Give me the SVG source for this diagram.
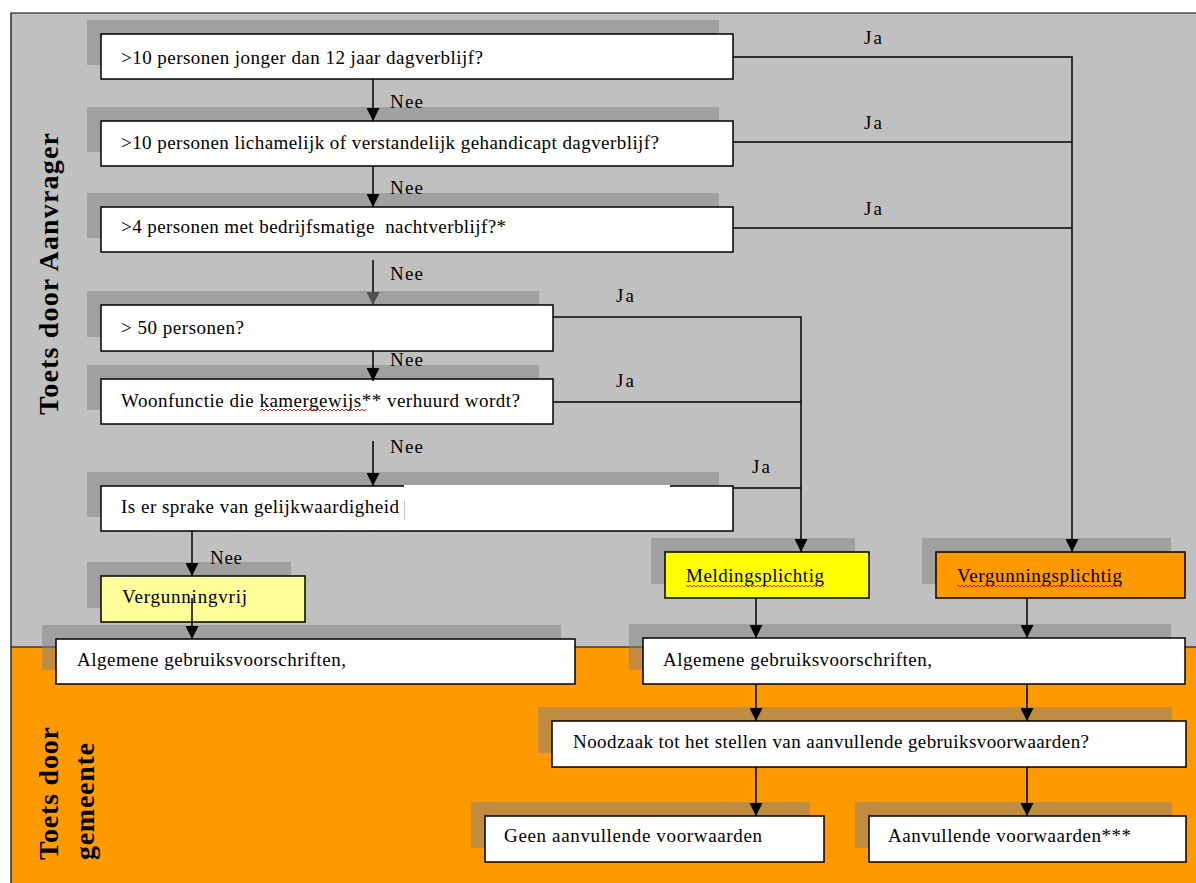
<svg xmlns="http://www.w3.org/2000/svg" width="1196" height="883" viewBox="0 0 1196 883">
<style>
.sh{fill:#808080;fill-opacity:.5}
.bx{stroke:#000;stroke-width:1.5}
.w{fill:#fff}
.t{font-family:"Liberation Serif","Times New Roman",serif;font-size:19px;fill:#000}
.v{font-family:"Liberation Serif","Times New Roman",serif;font-size:28px;font-weight:bold;fill:#000}
.c{fill:none;stroke:#000;stroke-width:1.5}
.ul{fill:url(#wave)}
</style>
<defs>
<marker id="ah" markerUnits="userSpaceOnUse" markerWidth="14" markerHeight="13" refX="13" refY="6.5" orient="auto"><path d="M0,0 L13,6.5 L0,13 z" fill="#000"/></marker>
<marker id="ahg" markerUnits="userSpaceOnUse" markerWidth="14" markerHeight="13" refX="13" refY="6.5" orient="auto"><path d="M0,0 L13,6.5 L0,13 z" fill="#505050"/></marker>
<pattern id="wave" patternUnits="userSpaceOnUse" x="0" y="0" width="4" height="4"><path d="M0,3 L2,1 L4,3" fill="none" stroke="#e00000" stroke-width="0.9"/></pattern>
</defs>

<g id="background">
<rect x="11" y="13" width="1185" height="634" fill="#c0c0c0"/>
<rect x="11" y="647" width="1185" height="236" fill="#ff9900"/>
<path d="M11,883 V13 H1196" fill="none" stroke="#000" stroke-width="1.2"/>
<path d="M11,647 H1196" fill="none" stroke="#000" stroke-width="1.2"/>
</g>

<g id="lane-labels">
<text class="v" transform="translate(58,415) rotate(-90)" textLength="282">Toets door Aanvrager</text>
<text class="v" transform="translate(58,860) rotate(-90)" textLength="133">Toets door</text>
<text class="v" transform="translate(94,860) rotate(-90)" textLength="117">gemeente</text>
</g>

<g id="q1">
<rect class="sh" x="87" y="20" width="632" height="45"/>
<rect class="bx w" x="101" y="34" width="632" height="45"/>
<text class="t" x="121" y="64" textLength="362">&gt;10 personen jonger dan 12 jaar dagverblijf?</text>
</g>
<g id="q2">
<rect class="sh" x="87" y="107" width="632" height="45"/>
<rect class="bx w" x="101" y="121" width="632" height="45"/>
<text class="t" x="121" y="149" textLength="538">&gt;10 personen lichamelijk of verstandelijk gehandicapt dagverblijf?</text>
</g>
<g id="q3">
<rect class="sh" x="87" y="193" width="632" height="45"/>
<rect class="bx w" x="101" y="207" width="632" height="45"/>
<text class="t" x="121" y="233" textLength="385" xml:space="preserve">&gt;4 personen met bedrijfsmatige  nachtverblijf?*</text>
</g>
<g id="q4">
<rect class="sh" x="87" y="291" width="452" height="46"/>
<rect class="bx w" x="101" y="305" width="452" height="46"/>
<text class="t" x="121" y="334" textLength="123">&gt; 50 personen?</text>
</g>
<g id="q5">
<rect class="sh" x="87" y="365" width="452" height="45"/>
<rect class="bx w" x="101" y="379" width="452" height="45"/>
<text class="t" x="121" y="407" textLength="399">Woonfunctie die kamergewijs** verhuurd wordt?</text>
<rect class="ul" x="260" y="409" width="106" height="4"/>
</g>
<g id="q6">
<rect class="sh" x="87" y="472" width="632" height="45"/>
<rect class="bx w" x="101" y="486" width="632" height="45"/>
<rect x="404" y="485" width="266" height="3" fill="#fff"/>
<line x1="404.5" y1="500" x2="404.5" y2="520" stroke="#c8c8c8" stroke-width="1"/>
<text class="t" x="121" y="513" textLength="278">Is er sprake van gelijkwaardigheid</text>
</g>
<g id="vergunningvrij">
<rect class="sh" x="87" y="562" width="204" height="46"/>
<rect class="bx" x="101" y="576" width="204" height="46" fill="#ffff99"/>
<text class="t" x="122" y="603" textLength="125">Vergunningvrij</text>
</g>
<g id="meldingsplichtig">
<rect class="sh" x="651" y="538" width="204" height="46"/>
<rect class="bx" x="665" y="552" width="204" height="46" fill="#ffff00"/>
<text class="t" x="686" y="582" textLength="138">Meldingsplichtig</text>
<rect class="ul" x="686" y="583" width="138" height="4"/>
</g>
<g id="vergunningsplichtig">
<rect class="sh" x="922" y="538" width="249" height="46"/>
<rect class="bx" x="936" y="552" width="249" height="46" fill="#ff9900"/>
<text class="t" x="957" y="582" textLength="165">Vergunningsplichtig</text>
<rect class="ul" x="957" y="583" width="165" height="4"/>
</g>
<g id="algemeen-links">
<rect class="sh" x="42" y="625" width="519" height="45"/>
<rect class="bx w" x="56" y="639" width="519" height="45"/>
<text class="t" x="77" y="666" textLength="269">Algemene gebruiksvoorschriften,</text>
</g>
<g id="algemeen-rechts">
<rect class="sh" x="629" y="624" width="542" height="46"/>
<rect class="bx w" x="643" y="638" width="542" height="46"/>
<text class="t" x="663" y="666" textLength="269">Algemene gebruiksvoorschriften,</text>
</g>
<g id="noodzaak">
<rect class="sh" x="538" y="707" width="634" height="46"/>
<rect class="bx w" x="552" y="721" width="634" height="46"/>
<text class="t" x="573" y="748" textLength="516">Noodzaak tot het stellen van aanvullende gebruiksvoorwaarden?</text>
</g>
<g id="geen-aanvullende">
<rect class="sh" x="471" y="802" width="339" height="46"/>
<rect class="bx w" x="485" y="816" width="339" height="46"/>
<text class="t" x="504" y="842" textLength="258">Geen aanvullende voorwaarden</text>
</g>
<g id="aanvullende">
<rect class="sh" x="855" y="802" width="317" height="46"/>
<rect class="bx w" x="869" y="816" width="317" height="46"/>
<text class="t" x="888" y="842" textLength="243">Aanvullende voorwaarden***</text>
</g>

<g id="connectors">
<path class="c" d="M373,79 V121" marker-end="url(#ah)"/>
<path class="c" d="M373,166 V207" marker-end="url(#ah)"/>
<path class="c" d="M373,260 V305" marker-end="url(#ahg)"/>
<path class="c" d="M373,351 V381" marker-end="url(#ah)"/>
<path class="c" d="M373,441 V486" marker-end="url(#ah)"/>
<path class="c" d="M192,531 V576" marker-end="url(#ah)"/>
<path class="c" d="M192,598 V639" marker-end="url(#ah)"/>
<path class="c" d="M733,57 H1072 V552" marker-end="url(#ah)"/>
<path class="c" d="M733,142 H1072"/>
<path class="c" d="M733,228 H1072"/>
<path class="c" d="M553,317 H801 V552" marker-end="url(#ah)"/>
<path class="c" d="M553,402 H801"/>
<path class="c" d="M733,488 H801"/>
<path class="c" d="M756,598 V638" marker-end="url(#ah)"/>
<path class="c" d="M1027,598 V638" marker-end="url(#ah)"/>
<path class="c" d="M756,684 V721" marker-end="url(#ah)"/>
<path class="c" d="M1027,684 V721" marker-end="url(#ah)"/>
<path class="c" d="M756,767 V816" marker-end="url(#ah)"/>
<path class="c" d="M1027,767 V816" marker-end="url(#ah)"/>
<text class="t" x="390" y="108" textLength="33">Nee</text>
<text class="t" x="390" y="194" textLength="33">Nee</text>
<text class="t" x="390" y="280" textLength="33">Nee</text>
<text class="t" x="390" y="366" textLength="33">Nee</text>
<text class="t" x="390" y="453" textLength="33">Nee</text>
<text class="t" x="210" y="564" textLength="32">Nee</text>
<text class="t" x="864" y="44" textLength="18">Ja</text>
<text class="t" x="864" y="129" textLength="18">Ja</text>
<text class="t" x="864" y="215" textLength="18">Ja</text>
<text class="t" x="616" y="302" textLength="18">Ja</text>
<text class="t" x="616" y="387" textLength="18">Ja</text>
<text class="t" x="752" y="473" textLength="18">Ja</text>
</g>
</svg>
